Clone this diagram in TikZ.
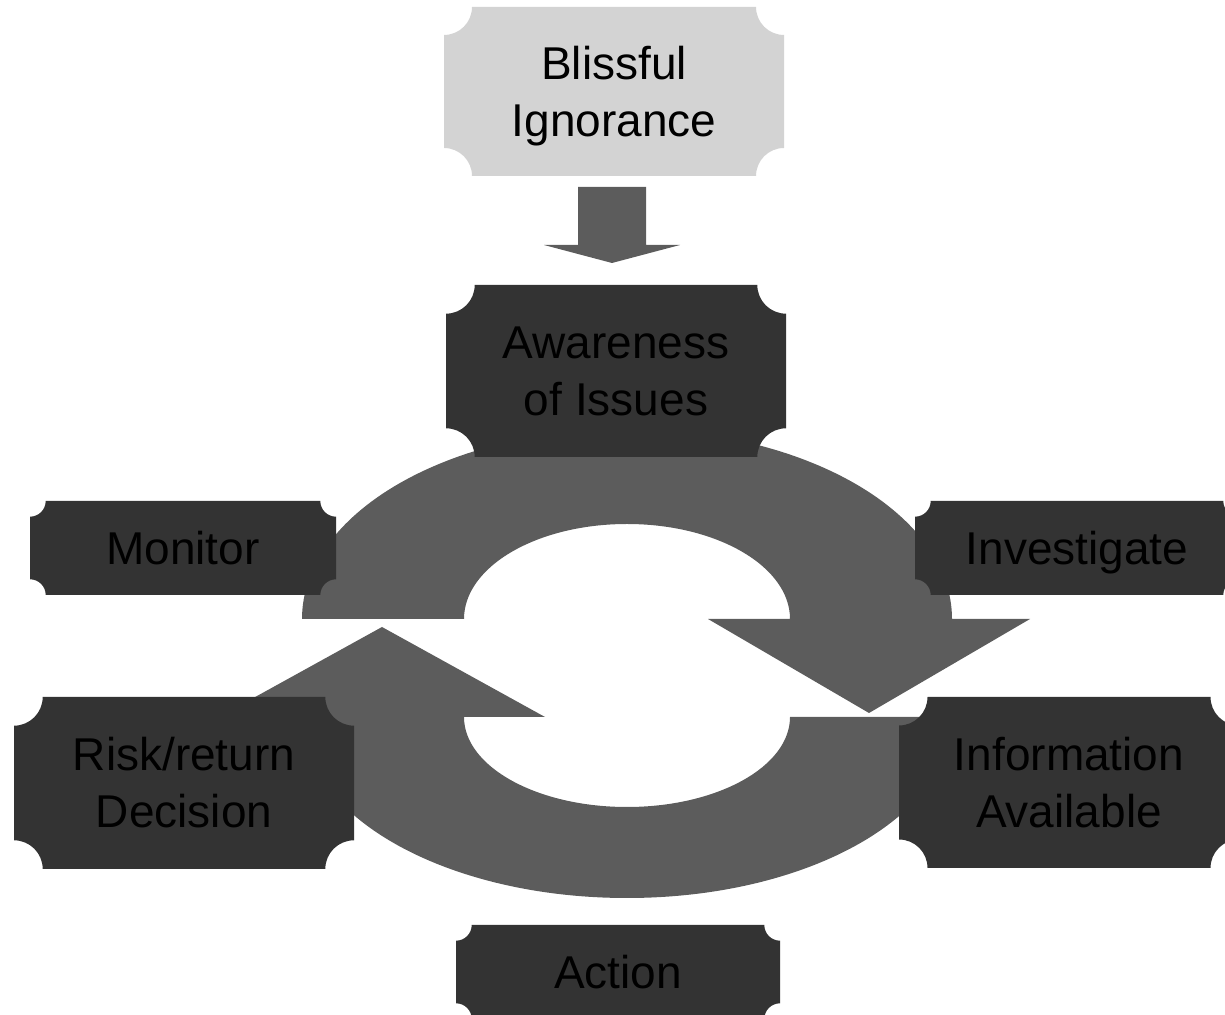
\documentclass[tikz,border=0pt]{standalone}
\usepackage{fontspec}
\setmainfont{Liberation Sans}
\definecolor{plaquedark}{HTML}{333333}
\definecolor{plaquelight}{HTML}{D3D3D3}
\definecolor{arrowgray}{HTML}{5C5C5C}
% strut centring every line on its cap height, 57pt line pitch
\newcommand\linestrut{\rule[-12pt]{0pt}{57pt}}
\tikzset{
  plaque/.style n args={4}{shape=rectangle, inner sep=0pt, outer sep=0pt,
    minimum width=#1, minimum height=#2, align=center, text=black,
    font=\fontsize{46}{57}\selectfont,
    path picture={\fill[#4]
      ([xshift=#3]path picture bounding box.south west)
      -- ([xshift=-#3]path picture bounding box.south east)
      arc[start angle=180,end angle=90,radius=#3]
      -- ([yshift=-#3]path picture bounding box.north east)
      arc[start angle=270,end angle=180,radius=#3]
      -- ([xshift=#3]path picture bounding box.north west)
      arc[start angle=0,end angle=-90,radius=#3]
      -- ([yshift=#3]path picture bounding box.south west)
      arc[start angle=90,end angle=0,radius=#3] -- cycle;}},
  blockarrow/.style={fill=arrowgray}
}
\begin{document}
\begin{tikzpicture}[x=1pt,y=1pt]
\useasboundingbox (0,0) rectangle (1225,1014);
\clip (0,0) rectangle (1225,1014);

% short down arrow under the top plaque
\path[blockarrow] (578,827) -- (646,827) -- (646,769) -- (680,769)
  -- (612,751) -- (544,769) -- (578,769) -- cycle;

% upper half of the cycle: left to right over the top, head pointing down
\path[blockarrow] (302,395)
  arc[start angle=180,end angle=0,x radius=325pt,y radius=190pt]
  -- (1030,395) -- (869,301) -- (708,395) -- (790,395)
  arc[start angle=0,end angle=180,x radius=163pt,y radius=95pt] -- cycle;

% lower half of the cycle: right to left under the bottom, head pointing up
\path[blockarrow] (952,297)
  arc[start angle=0,end angle=-180,x radius=325pt,y radius=181pt]
  -- (219,297) -- (382,387) -- (545,297) -- (464,297)
  arc[start angle=180,end angle=360,x radius=163pt,y radius=90pt] -- cycle;

% plaques
\node[plaque={340pt}{169pt}{28pt}{plaquelight}] (bliss) at (614,922.5)
  {\linestrut Blissful\\\linestrut Ignorance};
\node[plaque={340pt}{172pt}{28.7pt}{plaquedark}] (aware) at (616,643)
  {\linestrut Awareness\\\linestrut of Issues};
\node[plaque={306pt}{94pt}{15.7pt}{plaquedark}] (monitor) at (183,466)
  {\linestrut Monitor};
\node[plaque={324pt}{94pt}{15.7pt}{plaquedark}] (invest) at (1077,466)
  {\linestrut Investigate};
\node[plaque={340pt}{172pt}{28.7pt}{plaquedark}] (risk) at (184,231)
  {\linestrut Risk/return\\\linestrut Decision};
\node[plaque={340pt}{171pt}{28.5pt}{plaquedark}] (info) at (1069,231.5)
  {\linestrut Information\\\linestrut Available};
\node[plaque={324pt}{94pt}{15.7pt}{plaquedark}] (action) at (618,42)
  {\linestrut Action};
\end{tikzpicture}
\end{document}
